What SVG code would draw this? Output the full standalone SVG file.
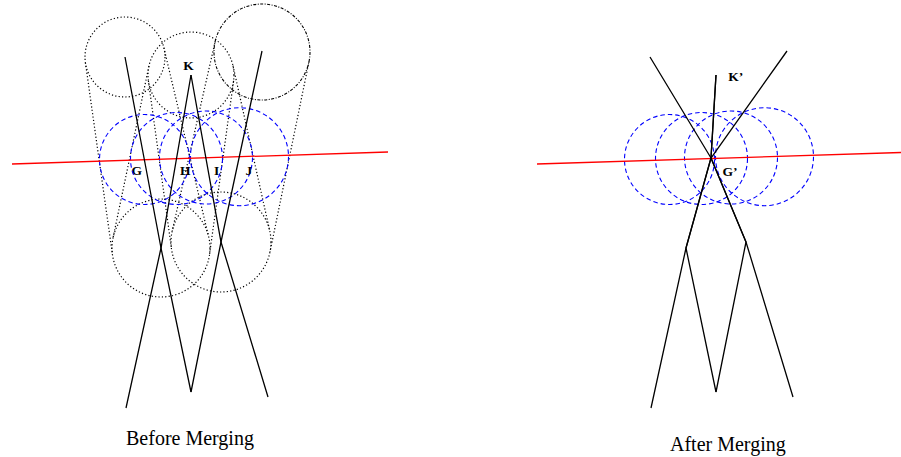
<svg xmlns="http://www.w3.org/2000/svg" width="901" height="457" viewBox="0 0 901 457">
<style>
.bg{fill:#ffffff}
.ln{fill:none;stroke:#000;stroke-width:1.3;stroke-linejoin:miter}
.red{fill:none;stroke:#ff0000;stroke-width:1.3}
.blue{fill:none;stroke:#0000ff;stroke-width:1.1;stroke-dasharray:4.5,3}
.dot{fill:none;stroke:#000;stroke-width:1.2;stroke-dasharray:1.2,2.2}
.dd{fill:none;stroke:#000;stroke-width:1.1;stroke-dasharray:3,1.5,1,1.5}
.lbl{font-family:"Liberation Serif","Times New Roman",serif;font-weight:bold;font-size:13.5px;fill:#000}
.cap{font-family:"Liberation Serif","Times New Roman",serif;font-size:20px;fill:#000}
</style>
<rect class="bg" x="0" y="0" width="901" height="457"/>

<g id="before">
  <g id="cones">
    <circle class="dot" cx="125" cy="57" r="40"/>
    <circle class="dot" cx="191" cy="75" r="43"/>
    <circle class="dd" cx="262" cy="52" r="48"/>
    <circle class="dot" cx="161" cy="248" r="49"/>
    <circle class="dot" cx="221" cy="242" r="50"/>
    <line class="dot" x1="163.9" y1="47.8" x2="208.6" y2="236.7"/>
    <line class="dot" x1="85.4" y1="62.6" x2="112.5" y2="254.8"/>
    <line class="dot" x1="233.6" y1="80.9" x2="209.5" y2="254.7"/>
    <line class="dot" x1="148.9" y1="66.2" x2="113" y2="238"/>
    <line class="dot" x1="233" y1="65.7" x2="269.8" y2="231.1"/>
    <line class="dot" x1="148.4" y1="80.8" x2="171.5" y2="248.8"/>
    <line class="dot" x1="309" y1="61.6" x2="270" y2="252"/>
    <line class="dot" x1="215.2" y1="41.4" x2="172.2" y2="231"/>
  </g>
  <g id="G"><circle class="blue" cx="144.5" cy="159.5" r="45"/><text class="lbl" x="131.5" y="175">G</text></g>
  <g id="H"><circle class="blue" cx="176.5" cy="158.5" r="46"/><text class="lbl" x="180" y="175">H</text></g>
  <g id="I"><circle class="blue" cx="206" cy="157.5" r="46.5"/><text class="lbl" x="214" y="175">I</text></g>
  <g id="J"><circle class="blue" cx="239.5" cy="156.7" r="49"/><text class="lbl" x="245.5" y="175">J</text></g>
  <g id="K"><text class="lbl" x="183.3" y="69.5">K</text></g>
  <line class="red" x1="12" y1="164" x2="388" y2="152"/>
  <g id="before-connectors">
    <polyline class="ln" points="125,57 161,248 191,392"/>
    <polyline class="ln" points="191,75 161,248 126,408"/>
    <polyline class="ln" points="191,75 221,242 268,397"/>
    <polyline class="ln" points="262,51 221,242 191,392"/>
  </g>
  <text class="cap" x="126" y="445">Before Merging</text>
</g>

<g id="after">
  <g id="Gp">
    <circle class="blue" cx="669.5" cy="159.5" r="45"/>
    <circle class="blue" cx="701.5" cy="158.5" r="46"/>
    <circle class="blue" cx="731" cy="157.5" r="46.5"/>
    <circle class="blue" cx="764.5" cy="156.7" r="49"/>
    <text class="lbl" x="722.5" y="176">G’</text>
  </g>
  <g id="Kp"><text class="lbl" x="728.3" y="80.5">K’</text></g>
  <line class="red" x1="537" y1="164" x2="901" y2="152.5"/>
  <g id="after-connectors">
    <polyline class="ln" points="650,57 711,158 686,248 716,392"/>
    <polyline class="ln" points="716,75 711,158 686,248 651,408"/>
    <polyline class="ln" points="716,75 711,158 746,242 793,397"/>
    <polyline class="ln" points="787,51 711,158 746,242 716,392"/>
  </g>
  <text class="cap" x="670" y="451">After Merging</text>
</g>
</svg>
